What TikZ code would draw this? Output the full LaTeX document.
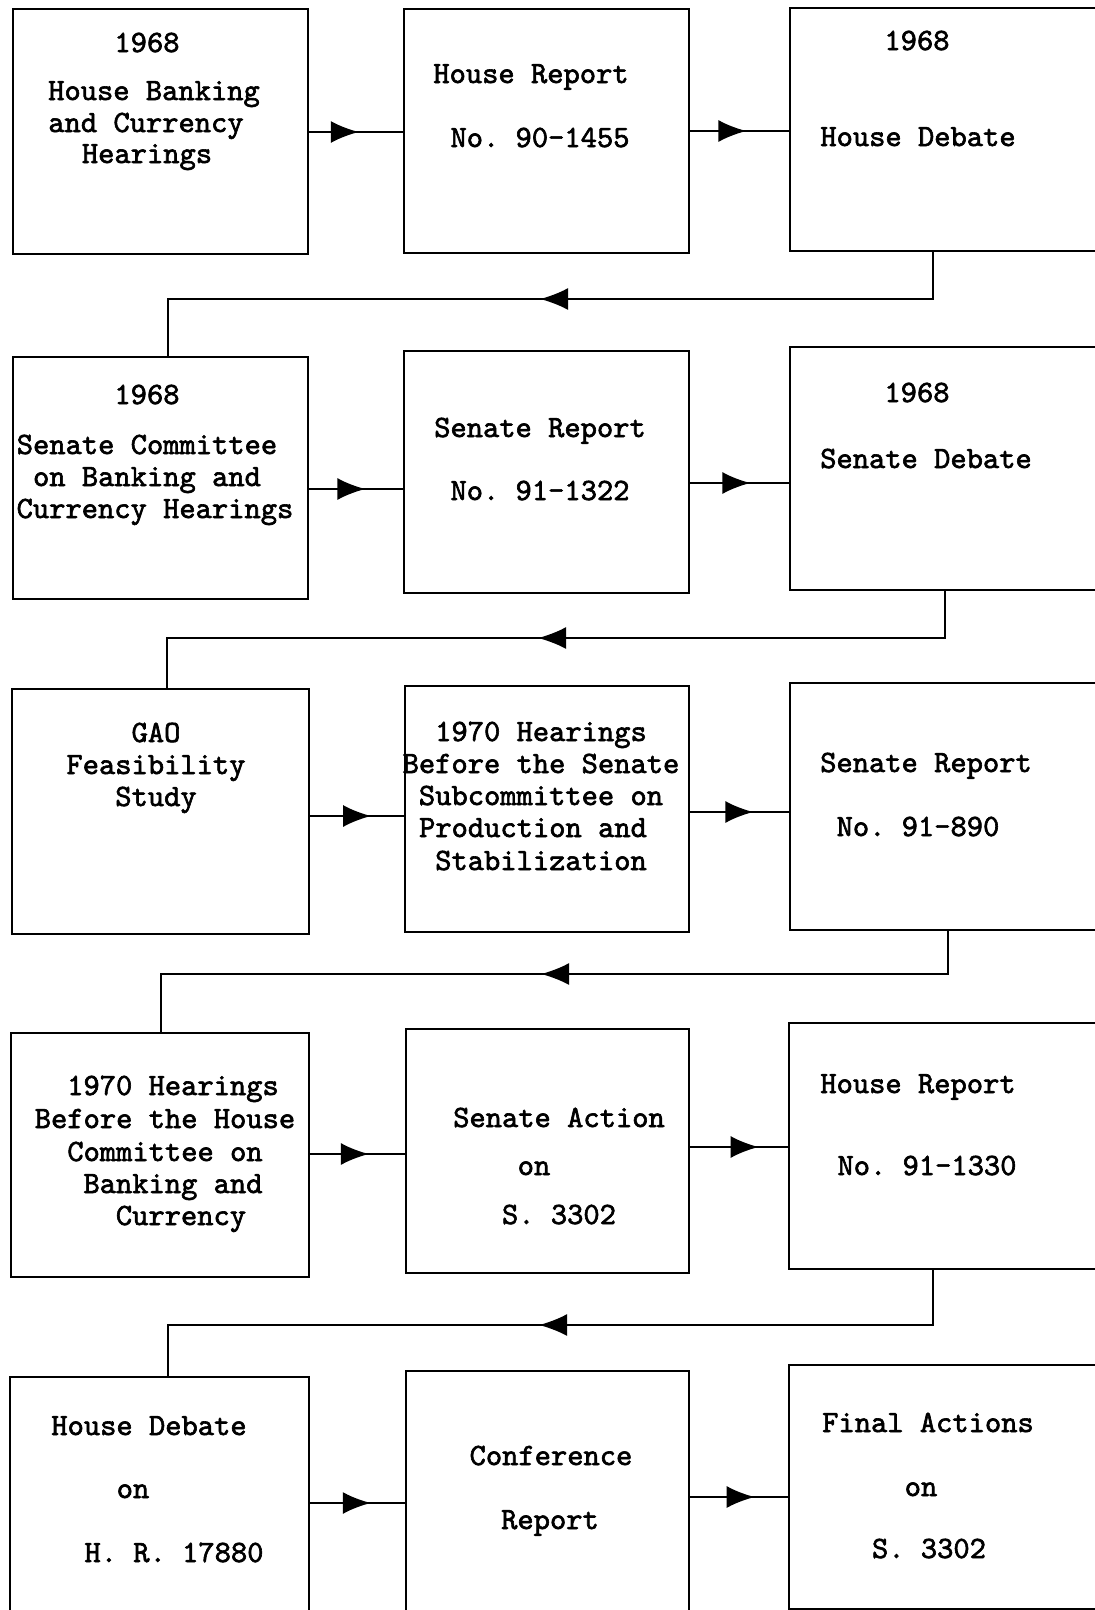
\documentclass[tikz,border=0pt]{standalone}
\usepackage{fontspec}
\usetikzlibrary{arrows.meta,decorations.markings,fit}
\newfontfamily\tmono[FakeBold=2]{lmmono10-regular.otf}
\frenchspacing
\begin{document}
\begin{tikzpicture}[x=1pt,y=-1pt,
  box/.style={draw, line width=1.8pt, inner sep=0pt},
  lbl/.style={font={\tmono\fontsize{31}{36}\selectfont\frenchspacing}, inner sep=0pt, anchor=base},
  link/.style={line width=1.6pt},
  hlink/.style={line width=2.4pt},
  tipat/.style={postaction={decorate}, decoration={markings, mark=at position #1 with {\arrow{Latex[length=28pt,width=22pt]}}}}]
\useasboundingbox (0,0) rectangle (1095,1610);
\clip (0,0) rectangle (1095,1610);
% boxes
\node[box, fit={(13,9) (308,254)}] (A) {};
\node[box, fit={(404,9) (689,253)}] (B) {};
\node[box, fit={(790,8) (1110,251)}] (C) {};
\node[box, fit={(13,357) (308,599)}] (D) {};
\node[box, fit={(404,351) (689,593)}] (E) {};
\node[box, fit={(790,347) (1110,590)}] (F) {};
\node[box, fit={(12,689) (309,934)}] (G) {};
\node[box, fit={(405,686) (689,932)}] (H) {};
\node[box, fit={(790,683) (1110,930)}] (I) {};
\node[box, fit={(11,1033) (309,1277)}] (J) {};
\node[box, fit={(406,1029) (689,1273)}] (K) {};
\node[box, fit={(789,1023) (1110,1269)}] (L) {};
\node[box, fit={(10,1377) (309,1625)}] (M) {};
\node[box, fit={(406,1371) (689,1625)}] (N) {};
\node[box, fit={(789,1365) (1110,1609)}] (O) {};
% texts
\node[lbl] (a1) at (147,52) {1968};
\node[lbl] (a2) at (154,100) {House Banking};
\node[lbl] (a3) at (146,132) {and Currency};
\node[lbl] (a4) at (147,163) {Hearings};
\node[lbl] (b1) at (531,83) {House Report};
\node[lbl] (b2) at (540,147) {No. 90-1455};
\node[lbl] (c1) at (917,50) {1968};
\node[lbl] (c2) at (918,146) {House Debate};
\node[lbl] (d1) at (147,404) {1968};
\node[lbl] (d2) at (147,454) {Senate Committee};
\node[lbl] (d3) at (147,486) {on Banking and};
\node[lbl] (d4) at (155,518) {Currency Hearings};
\node[lbl] (e1) at (540,437) {Senate Report};
\node[lbl] (e2) at (540,500) {No. 91-1322};
\node[lbl] (f1) at (917,402) {1968};
\node[lbl] (f2) at (926,468) {Senate Debate};
\node[lbl] (g1) at (156,742) {GAO};
\node[lbl] (g2) at (156,774) {Feasibility};
\node[lbl] (g3) at (156,806) {Study};
\node[lbl] (h1) at (541,741) {1970 Hearings};
\node[lbl] (h2) at (541,773) {Before the Senate};
\node[lbl] (h3) at (541,805) {Subcommittee on};
\node[lbl] (h4) at (533,837) {Production and};
\node[lbl] (h5) at (541,870) {Stabilization};
\node[lbl] (i1) at (926,772) {Senate Report};
\node[lbl] (i2) at (918,836) {No. 91-890};
\node[lbl] (j1) at (173,1095) {1970 Hearings};
\node[lbl] (j2) at (165,1128) {Before the House};
\node[lbl] (j3) at (165,1161) {Committee on};
\node[lbl] (j4) at (173,1193) {Banking and};
\node[lbl] (j5) at (181,1225) {Currency};
\node[lbl] (k1) at (559,1127) {Senate Action};
\node[lbl] (k2) at (534,1175) {on};
\node[lbl] (k3) at (559,1224) {S. 3302};
\node[lbl] (l1) at (918,1093) {House Report};
\node[lbl] (l2) at (927,1175) {No. 91-1330};
\node[lbl] (m1) at (149,1435) {House Debate};
\node[lbl] (m2) at (133,1498) {on};
\node[lbl] (m3) at (174,1562) {H. R. 17880};
\node[lbl] (n1) at (551,1465) {Conference};
\node[lbl] (n2) at (550,1529) {Report};
\node[lbl] (o1) at (928,1432) {Final Actions};
\node[lbl] (o2) at (921,1496) {on};
\node[lbl] (o3) at (929,1558) {S. 3302};
% horizontal arrows
\draw[hlink, tipat=0.53] (A.east |- 0,132) -- (B.west |- 0,132);
\draw[hlink, tipat=0.57] (B.east |- 0,131) -- (C.west |- 0,131);
\draw[hlink, tipat=0.6]  (D.east |- 0,489) -- (E.west |- 0,489);
\draw[hlink, tipat=0.61] (E.east |- 0,483) -- (F.west |- 0,483);
\draw[hlink, tipat=0.65] (G.east |- 0,816) -- (H.west |- 0,816);
\draw[hlink, tipat=0.64] (H.east |- 0,812) -- (I.west |- 0,812);
\draw[hlink, tipat=0.62] (J.east |- 0,1154) -- (K.west |- 0,1154);
\draw[hlink, tipat=0.7]  (K.east |- 0,1147) -- (L.west |- 0,1147);
\draw[hlink, tipat=0.64] (M.east |- 0,1503) -- (N.west |- 0,1503);
\draw[hlink, tipat=0.66] (N.east |- 0,1497) -- (O.west |- 0,1497);
% return connectors
\draw[link, tipat=440pt] (C.south -| 933,0) -- (933,299) -- (168,299) -- (D.north -| 168,0);
\draw[link, tipat=454pt] (F.south -| 945,0) -- (945,638) -- (167,638) -- (G.north -| 167,0);
\draw[link, tipat=450pt] (I.south -| 948,0) -- (948,974) -- (161,974) -- (J.north -| 161,0);
\draw[link, tipat=449pt] (L.south -| 933,0) -- (933,1325) -- (168,1325) -- (M.north -| 168,0);
\end{tikzpicture}
\end{document}
